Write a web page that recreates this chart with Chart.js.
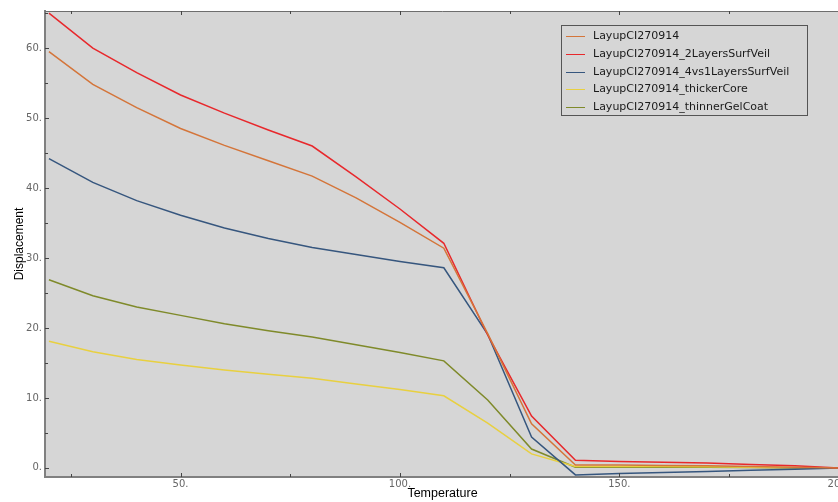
<!DOCTYPE html>
<html>
<head>
<meta charset="utf-8">
<script src="https://cdn.jsdelivr.net/npm/chart.js@4"></script>
<style>
  html, body { margin: 0; padding: 0; background: #ffffff; overflow: hidden; width: 838px; height: 502px; }
  #wrap { position: absolute; left: 0; top: 0; width: 860px; height: 502px; }
  #legend { position: absolute; left: 561px; top: 25px; width: 247px; height: 91px; border: 1px solid #555; box-sizing: border-box; padding-top: 1px; font-family: "DejaVu Sans", Verdana, sans-serif; font-size: 11px; color: #1a1a1a; }
  .row { height: 17.8px; line-height: 17.8px; white-space: nowrap; position: relative; }
  .sw { position: absolute; left: 4px; top: 9px; width: 19px; height: 0; border-top: 1.5px solid; }
  .lb { position: absolute; left: 31px; top: 0; }
</style>
</head>
<body>
<div id="wrap"><canvas id="c" width="860" height="502"></canvas></div>
<div id="legend"></div>
<script>
const temperatures = [20, 30, 40, 50, 60, 70, 80, 90, 100, 110, 120, 130, 140, 150, 160, 170, 180, 190, 200];
const seriesNames = ["LayupCI270914", "LayupCI270914_2LayersSurfVeil", "LayupCI270914_4vs1LayersSurfVeil", "LayupCI270914_thickerCore", "LayupCI270914_thinnerGelCoat"];
const layupBase = [59.5, 54.8, 51.5, 48.5, 46.1, 43.9, 41.7, 38.6, 35.1, 31.4, 19.2, 6.3, 0.4, 0.4, 0.35, 0.3, 0.2, 0.1, 0];
const layup2LayersSurfVeil = [65.0, 60.0, 56.5, 53.3, 50.7, 48.3, 46.0, 41.6, 37.0, 32.1, 19.0, 7.4, 1.1, 0.9, 0.8, 0.7, 0.5, 0.3, 0];
const layup4vs1LayersSurfVeil = [44.2, 40.8, 38.2, 36.1, 34.3, 32.8, 31.5, 30.5, 29.5, 28.6, 19.1, 4.4, -1.0, -0.8, -0.65, -0.5, -0.35, -0.2, 0];
const layupThickerCore = [18.1, 16.6, 15.5, 14.7, 14.0, 13.4, 12.8, 12.0, 11.2, 10.3, 6.4, 2.0, 0.2, 0.2, 0.2, 0.15, 0.1, 0.05, 0];
const layupThinnerGelCoat = [26.9, 24.6, 23.0, 21.8, 20.6, 19.6, 18.7, 17.6, 16.5, 15.3, 9.7, 2.7, 0.1, 0.1, 0.1, 0.1, 0.05, 0, 0];
const seriesColors = ["#d4753a", "#e8282c", "#36567e", "#e8d040", "#7f8a2a"];
const xMajorTicks = [50, 100, 150, 200];
const xMinorTicks = [25, 75, 125, 175];
const yMajorTicks = [0, 10, 20, 30, 40, 50, 60];
const yMinorTicks = [5, 15, 25, 35, 45, 55, 65];

const allSeries = [layupBase, layup2LayersSurfVeil, layup4vs1LayersSurfVeil, layupThickerCore, layupThinnerGelCoat];

const datasets = allSeries.map((vals, i) => ({
  label: seriesNames[i],
  data: vals.map((v, k) => ({ x: temperatures[k], y: v })),
  borderColor: seriesColors[i],
  backgroundColor: seriesColors[i],
  borderWidth: 1.5,
  pointRadius: 0,
  tension: 0,
  fill: false
}));

const plotDeco = {
  id: 'plotDeco',
  beforeDraw(chart) {
    const { ctx, chartArea: a } = chart;
    ctx.save();
    ctx.fillStyle = '#d6d6d6';
    ctx.fillRect(a.left, a.top, a.right - a.left, a.bottom - a.top);
    ctx.restore();
  },
  afterDraw(chart) {
    const { ctx, chartArea: a, scales } = chart;
    const xs = scales.x, ys = scales.y;
    ctx.save();
    ctx.strokeStyle = '#6e6e6e';
    ctx.lineWidth = 1;
    ctx.beginPath();
    ctx.moveTo(a.left, a.top + 0.5);
    ctx.lineTo(a.right, a.top + 0.5);
    ctx.stroke();
    ctx.strokeStyle = '#444';
    const drawX = (vals, len) => {
      vals.forEach(v => {
        const px = Math.round(xs.getPixelForValue(v)) + 0.5;
        ctx.beginPath(); ctx.moveTo(px, a.bottom); ctx.lineTo(px, a.bottom - len); ctx.stroke();
        ctx.beginPath(); ctx.moveTo(px, a.top); ctx.lineTo(px, a.top + len); ctx.stroke();
      });
    };
    const drawY = (vals, len) => {
      vals.forEach(v => {
        const py = Math.round(ys.getPixelForValue(v)) + 0.5;
        if (py < a.top || py > a.bottom) return;
        ctx.beginPath(); ctx.moveTo(a.left, py); ctx.lineTo(a.left + len, py); ctx.stroke();
      });
    };
    drawX(xMajorTicks, 4); drawX(xMinorTicks, 3);
    drawY(yMajorTicks, 4); drawY(yMinorTicks, 3);
    ctx.restore();
  }
};

new Chart(document.getElementById('c'), {
  type: 'line',
  data: { datasets },
  options: {
    responsive: false,
    animation: false,
    layout: { padding: { top: 11, right: 20, left: 0, bottom: 0 } },
    plugins: { legend: { display: false }, tooltip: { enabled: false } },
    scales: {
      x: {
        type: 'linear',
        min: 19.1,
        max: 200.3,
        afterBuildTicks(s) { s.ticks = xMajorTicks.map(v => ({ value: v })); },
        afterFit(s) { s.height = 25; s.paddingLeft = 0; s.paddingRight = 0; },
        grid: { drawOnChartArea: false, drawTicks: false },
        border: { color: '#808080', width: 2 },
        ticks: { padding: 1, color: '#666', font: { family: 'DejaVu Sans', size: 10 }, callback: v => v + '.', maxRotation: 0, autoSkip: false },
        title: { display: true, text: 'Temperature', color: '#000', font: { family: 'Liberation Sans', size: 12.5, weight: 'normal' }, padding: { top: 0, bottom: 1 } }
      },
      y: {
        type: 'linear',
        min: -1.3,
        max: 65.3,
        afterBuildTicks(s) { s.ticks = yMajorTicks.map(v => ({ value: v })); },
        afterFit(s) { s.width = 45; s.paddingTop = 0; s.paddingBottom = 0; },
        grid: { drawOnChartArea: false, drawTicks: false },
        border: { color: '#808080', width: 2 },
        ticks: { padding: 3, color: '#666', font: { family: 'DejaVu Sans', size: 10 }, callback: v => v + '.', autoSkip: false },
        title: { display: true, text: 'Displacement', color: '#000', font: { family: 'Liberation Sans', size: 12 }, padding: { top: 12, bottom: 0 } }
      }
    }
  },
  plugins: [plotDeco]
});

const lg = document.getElementById('legend');
seriesNames.forEach((n, i) => {
  const r = document.createElement('div');
  r.className = 'row';
  const s = document.createElement('span');
  s.className = 'sw';
  s.style.borderTopColor = seriesColors[i];
  const t = document.createElement('span');
  t.className = 'lb';
  t.textContent = n;
  r.appendChild(s); r.appendChild(t);
  lg.appendChild(r);
});
</script>
</body>
</html>
